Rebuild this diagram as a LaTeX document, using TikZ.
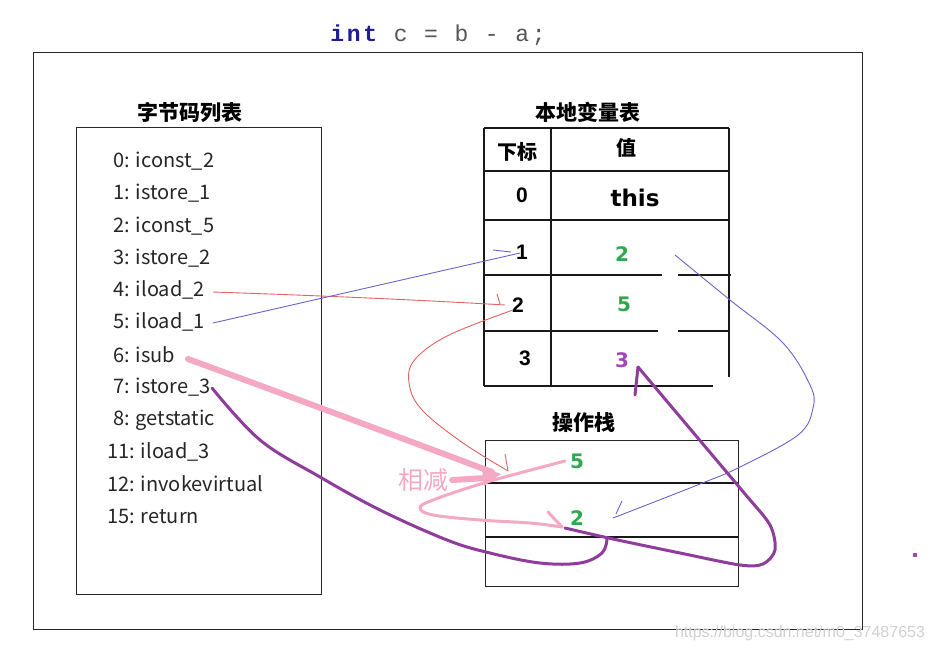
\documentclass[tikz,border=0pt]{standalone}
\usepackage{fontspec}
\setmainfont{Noto Sans CJK SC}
\newfontfamily\codefont[LetterSpace=12]{Liberation Mono}
\newfontfamily\arialf{Liberation Sans}
\newfontfamily\dejaf{DejaVu Sans}
\definecolor{navyc}{HTML}{1F1F8F}
\definecolor{codegray}{HTML}{555555}
\definecolor{greenv}{HTML}{2EA84C}
\definecolor{purplev}{HTML}{A148B5}
\definecolor{redl}{HTML}{E06464}
\definecolor{bluel}{HTML}{6A64C8}
\definecolor{pinkl}{HTML}{F5A8C4}
\definecolor{purl}{HTML}{8F3C9C}
\tikzset{
  frame/.style={draw=black!85,line width=1.2pt,anchor=north west,inner sep=0pt},
  tline/.style={draw=black!90,line width=1.2pt},
  heading/.style={font=\fontsize{21}{23}\selectfont\bfseries,inner sep=0pt},
  bc/.style={font=\fontsize{20}{22}\selectfont,anchor=west,inner sep=0pt,text=black!85},
  idx/.style={font=\arialf\fontsize{21}{23}\selectfont\bfseries,inner sep=0pt},
  gval/.style={font=\dejaf\fontsize{20}{22}\selectfont\bfseries,text=greenv,inner sep=0pt},
  redarrow/.style={draw=redl,line width=0.9pt},
  bluearrow/.style={draw=bluel,line width=0.9pt},
  pinkfat/.style={draw=pinkl,line width=6pt,line cap=round},
  pinkmid/.style={draw=pinkl,line width=3pt,line cap=round},
  purarrow/.style={draw=purl,line width=3pt,line cap=round,line join=round},
}
\begin{document}
\begin{tikzpicture}[x=1pt,y=-1pt]
\useasboundingbox (0,0) rectangle (933,651);
\fill[white] (0,0) rectangle (933,651);
% title code
\node[font=\codefont\fontsize{23}{25}\selectfont,text=codegray,inner sep=0pt] (code) at (438,35)
  {\textcolor{navyc}{\bfseries int} c = b - a;};
% outer frame
\node[frame,minimum width=829pt,minimum height=577pt] (outer) at (33,52) {};
% bytecode list
\node[heading] (bchead) at (190,113) {字节码列表};
\node[frame,minimum width=245pt,minimum height=467pt] (bcbox) at (76,127) {};
\node[bc] (b0) at (113,161) {0: iconst\_2};
\node[bc] (b1) at (113,193) {1: istore\_1};
\node[bc] (b2) at (113,226) {2: iconst\_5};
\node[bc] (b3) at (113,258) {3: istore\_2};
\node[bc] (b4) at (113,290) {4: iload\_2};
\node[bc] (b5) at (113,322) {5: iload\_1};
\node[bc] (b6) at (113,355) {6: isub};
\node[bc] (b7) at (113,387) {7: istore\_3};
\node[bc] (b8) at (113,420) {8: getstatic};
\node[bc] (b11) at (107,452) {11: iload\_3};
\node[bc] (b12) at (107,484) {12: invokevirtual};
\node[bc] (b15) at (107,516) {15: return};
% local variable table
\node[heading] (lvhead) at (588,112) {本地变量表};
\draw[tline] (484,128) -- (729,128);
\draw[tline] (484,171) -- (729,171);
\draw[tline] (484,220) -- (729,220);
\draw[tline] (484,275) -- (662,275) (678,275) -- (731,275);
\draw[tline] (484,331) -- (658,331) (678,331) -- (730,331);
\draw[tline] (484,386) -- (713,386);
\draw[tline] (484,128) -- (484,386);
\draw[tline] (551,128) -- (551,386);
\draw[tline] (729,128) -- (729,377);
\node[font=\fontsize{20}{22}\selectfont\bfseries,inner sep=0pt] (hidx) at (517,152) {下标};
\node[font=\fontsize{20}{22}\selectfont\bfseries,inner sep=0pt] (hval) at (626,148) {值};
\node[idx] (l0) at (522,195) {0};
\node[font=\dejaf\fontsize{23}{25}\selectfont\bfseries,inner sep=0pt] (v0) at (635,198) {this};
\node[idx] (l1) at (522,252) {1};
\node[gval] (v1) at (622,254) {2};
\node[idx] (l2) at (518,305) {2};
\node[gval] (v2) at (624,304) {5};
\node[idx] (l3) at (525,358) {3};
\node[font=\dejaf\fontsize{20}{22}\selectfont\bfseries,text=purplev,inner sep=0pt] (v3) at (622,360) {3};
% operand stack
\node[heading] (ophead) at (584,423) {操作栈};
\node[frame,minimum width=253pt,minimum height=146pt] (opbox) at (485,440) {};
\draw[tline] (485,483) -- (738,483);
\draw[tline] (485,537) -- (738,537);
\node[gval] (s1) at (577,461) {5};
\node[gval] (s2) at (577,518) {2};
\node[font=\fontsize{25}{27}\selectfont,text=pinkl,inner sep=0pt] (sub) at (423,480) {相减};
% red arrows
\coordinate (r1s) at (213,292);
\coordinate (r1e) at (505,305);
\draw[redarrow] (r1s) .. controls (330,296) and (420,300) .. (r1e);
\draw[redarrow] (497,294) -- (500,304);
\coordinate (r2e) at (508,471);
\draw[redarrow] plot[smooth,tension=0.6] coordinates {(513,310) (447,336) (413,362) (410,388) (424,412) (463,443) (r2e)};
\draw[redarrow] (505,454) -- (r2e);
% blue arrows
\coordinate (bl1s) at (213,323);
\coordinate (bl1e) at (520,253);
\draw[bluearrow] (bl1s) -- (bl1e);
\draw[bluearrow] (493,250) -- (511,252);
\coordinate (bl2e) at (613,518);
\draw[bluearrow] plot[smooth,tension=0.6] coordinates {(675,255) (730,300) (783,343) (810,385) (813,408) (798,435) (740,467) (700,484) (bl2e)};
\draw[bluearrow] (622,501) -- (616,514);
% pink arrows
\coordinate (p1s) at (188,359);
\coordinate (p1e) at (492,472);
\draw[pinkfat] (p1s) .. controls (300,400) and (420,445) .. (p1e);
\draw[pinkfat] ([xshift=4pt]sub.east) -- (486,478);
\fill[pinkl] (482,467) -- (501,474) -- (484,486) -- cycle;
\coordinate (p2e) at (562,527);
\draw[pinkmid] plot[smooth,tension=0.6] coordinates {(565,461) (487,482) (433,500) (420,508) (433,515) (480,520) (530,523) (p2e)};
\draw[pinkmid] (548,512) -- (p2e);
% purple arrows
\coordinate (pu1s) at (212,388);
\draw[purarrow] plot[smooth,tension=0.6] coordinates {(pu1s) (260,440) (320,477) (380,510) (447,540) (490,553) (540,563) (580,563) (602,553) (607,539)};
\coordinate (pu2e) at (638,367);
\draw[purarrow] plot[smooth,tension=0.5] coordinates {(565,528) (613,539) (680,553) (740,565) (763,564) (775,550) (770,525) (745,494) (697,437) (pu2e)};
\draw[purarrow] (pu2e) -- (635,395);
% stray mark
\fill[purplev] (913,553) rectangle (917,557);
% watermark
\node[font=\arialf\fontsize{16}{18}\selectfont,text=black!18,inner sep=0pt] (wm) at (800,633) {https://blog.csdn.net/m0\_37487653};
\end{tikzpicture}
\end{document}
